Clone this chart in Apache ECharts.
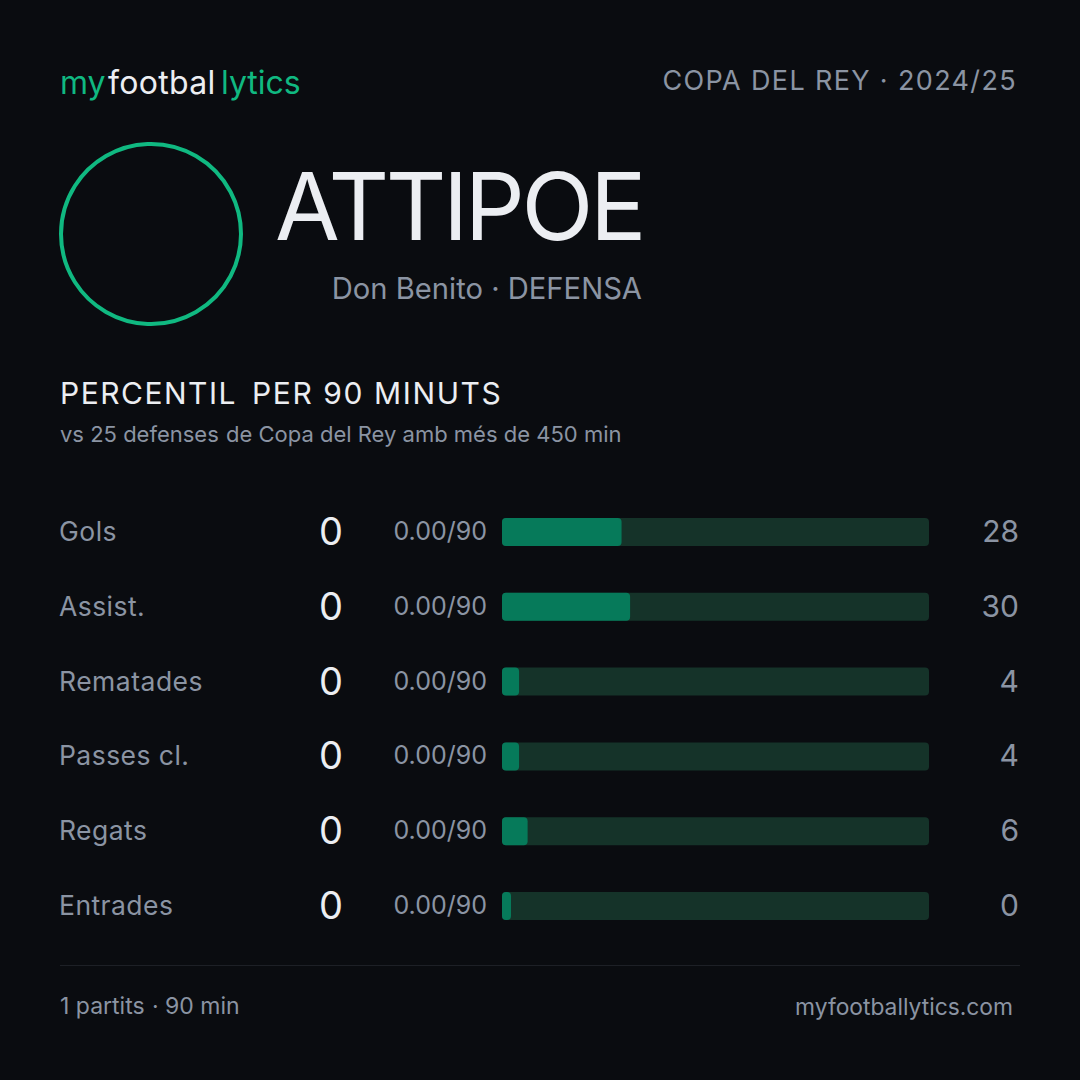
<!DOCTYPE html>
<html>
<head>
<meta charset="utf-8">
<style>
html, body { margin: 0; background: #0a0c10; }
#main { width: 1080px; height: 1080px; }
</style>
<script src="https://cdn.jsdelivr.net/npm/echarts@6/dist/echarts.min.js"></script>
</head>
<body>
<div id="main"></div>
<script>
var categories = ['Gols', 'Assist.', 'Rematades', 'Passes cl.', 'Regats', 'Entrades']
var rawValues = ['0', '0', '0', '0', '0', '0']
var per90Values = ['0.00/90', '0.00/90', '0.00/90', '0.00/90', '0.00/90', '0.00/90']
var percentiles = [28, 30, 4, 4, 6, 0]

var FONT = 'Inter'
var GREEN = '#10b981'
var GREY = '#8b94a3'
var WHITE = '#eceef2'

// echarts has no letter spacing option, set it on the svg text afterwards
var spacing = {
    'ATTIPOE': -3.4,
    'COPA DEL REY · 2024/25': 1.35,
    'PERCENTIL': 1.5,
    'PER 90 MINUTS': 1.6,
    'footbal': 0.3,
    'Rematades': 0.5,
    'Gols': 0.5,
    'Assist.': 0.45,
    'Passes cl.': 0.45,
    'Regats': 0.45,
    'Entrades': 0.45
}

function txt(x, y, text, size, color, align) {
    return {
        type: 'text', x: x, y: y,
        style: { text: text, font: '400 ' + size + 'px ' + FONT, fill: color, textAlign: align || 'left', textVerticalAlign: 'middle' }
    }
}

// text columns sit on their own grid, 1px above the bars
function labelAxis(data, position, color, size, align, margin) {
    return {
        type: 'category', gridIndex: 1, data: data, inverse: true, position: position,
        axisLine: { show: false }, axisTick: { show: false },
        axisLabel: { color: color, fontSize: size, align: align, margin: margin, fontFamily: FONT }
    }
}

var myChart = echarts.init(document.getElementById('main'), null, { renderer: 'svg' })

var option = {
    backgroundColor: '#0a0c10',
    animation: false,
    textStyle: { fontFamily: FONT },
    grid: [
        { left: 502, top: 494.6, width: 427, height: 448.8 },
        { left: 502, top: 493.6, width: 427, height: 448.8 }
    ],
    xAxis: [
        { type: 'value', min: 0, max: 100, show: false },
        { type: 'value', gridIndex: 1, min: 0, max: 100, show: false }
    ],
    yAxis: [
        { type: 'category', data: categories, inverse: true, show: false },
        labelAxis(categories, 'left', GREY, 26.5, 'left', 443),
        labelAxis(rawValues, 'left', WHITE, 38, 'center', 171),
        labelAxis(per90Values, 'left', GREY, 25, 'right', 15),
        labelAxis(percentiles, 'right', GREY, 30, 'right', 90)
    ],
    series: [{
        type: 'bar',
        data: percentiles,
        xAxisIndex: 0,
        yAxisIndex: 0,
        barWidth: 28,
        barMinHeight: 9,
        showBackground: true,
        backgroundStyle: { color: '#153329', borderRadius: 4 },
        itemStyle: { color: '#067a5a', borderRadius: 4 }
    }],
    graphic: [
        txt(60, 82, 'my', 32, GREEN),
        txt(108, 82, 'footbal', 32, WHITE),
        txt(221, 82, 'lytics', 32, GREEN),
        txt(1017, 80, 'COPA DEL REY · 2024/25', 27, GREY, 'right'),
        { type: 'circle', shape: { cx: 151, cy: 234, r: 90 }, style: { fill: 'none', stroke: GREEN, lineWidth: 4 } },
        txt(275, 206, 'ATTIPOE', 94, WHITE),
        txt(642, 288, 'Don Benito · DEFENSA', 29.2, GREY, 'right'),
        txt(60, 393, 'PERCENTIL', 30, WHITE),
        txt(252, 393, 'PER 90 MINUTS', 30, WHITE),
        txt(60, 434, 'vs 25 defenses', 22, GREY),
        txt(226, 434, 'de Copa del Rey amb més de 450 min', 22, GREY),
        { type: 'line', shape: { x1: 60, y1: 965.5, x2: 1020, y2: 965.5 }, style: { stroke: '#1d2026', lineWidth: 1 } },
        txt(60, 1006, '1 partits', 23, GREY),
        txt(152, 1006, '· 90 min', 23, GREY),
        txt(1013, 1006, 'myfootballytics.com', 22.8, GREY, 'right')
    ]
}

myChart.setOption(option)

function applySpacing() {
    document.querySelectorAll('#main text').forEach(function (t) {
        var s = spacing[t.textContent]
        if (s) t.style.letterSpacing = s + 'px'
    })
}
applySpacing()
myChart.on('finished', applySpacing)
</script>
</body>
</html>
